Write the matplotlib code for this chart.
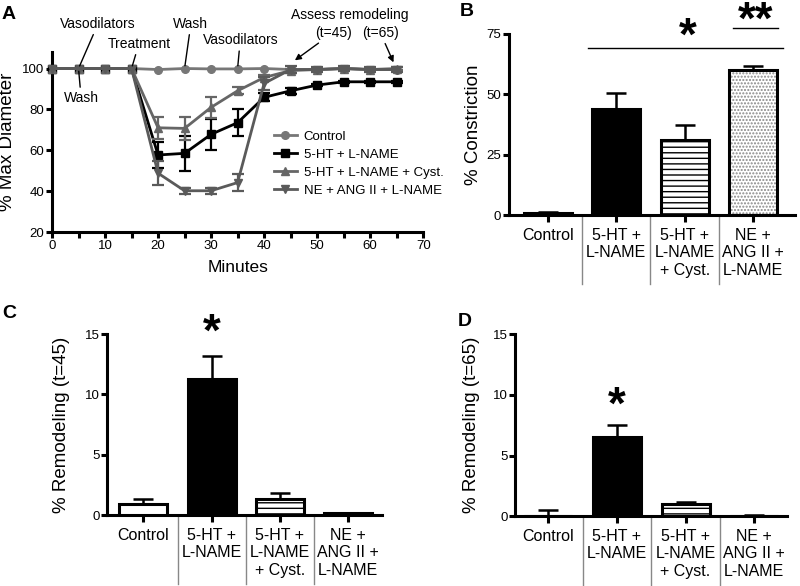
import numpy as np
import matplotlib.pyplot as plt
from matplotlib.transforms import blended_transform_factory

plt.rcParams['font.family'] = ['Liberation Sans', 'DejaVu Sans']
plt.rcParams['hatch.linewidth'] = 1.0

# panel A: time course
minutes = [0, 5, 10, 15, 20, 25, 30, 35, 40, 45, 50, 55, 60, 65]
ctrl_diam = [100, 100, 100, 100, 99.5, 100, 99.8, 99.8, 100, 99.5, 99.5, 100, 99.5, 99.5]
ctrl_err = [0, 0, 0, 0, 0, 0, 0, 0, 0, 0, 0, 0, 0, 0]
ht_diam = [100, 100, 100, 100, 57.7, 58.5, 67.8, 73.5, 85.9, 89.1, 91.9, 93.5, 93.5, 93.5]
ht_err = [0, 0, 0, 0, 6.2, 8.6, 7.7, 6.6, 2.0, 1.5, 0.7, 0.5, 0.5, 0.5]
cyst_diam = [100, 100, 100, 100, 71.0, 70.7, 81.0, 89.1, 95.6, 99.0, 99.5, 100, 99.5, 100]
cyst_err = [0, 0, 0, 0, 5.5, 5.7, 5.0, 1.8, 1.0, 1.0, 0.8, 0.8, 0.8, 0.8]
ne_diam = [100, 100, 100, 100, 48.8, 40.2, 40.2, 44.2, 92.7, 99.5, 99.5, 100, 99.5, 99.5]
ne_err = [0, 0, 0, 0, 6.0, 1.5, 1.5, 4.0, 3.0, 1.5, 1.0, 1.0, 1.0, 1.0]
series_labels = ['Control', '5-HT + L-NAME', '5-HT + L-NAME + Cyst.', 'NE + ANG II + L-NAME']

# panels B-D: bars
groups = ['Control', '5-HT +\nL-NAME', '5-HT +\nL-NAME\n+ Cyst.', 'NE +\nANG II +\nL-NAME']
constriction = [1.0, 44.0, 31.0, 60.0]
constriction_err = [0.3, 6.5, 6.5, 1.8]
remodel_45 = [0.9, 11.3, 1.3, 0.15]
remodel_45_err = [0.4, 1.9, 0.5, 0.05]
remodel_65 = [0.0, 6.5, 1.0, 0.05]
remodel_65_err = [0.5, 1.0, 0.2, 0.03]

fig = plt.figure(figsize=(8, 5.86), dpi=100)


def style_axes(ax, lw=2.2):
    for s in ['top', 'right']:
        ax.spines[s].set_visible(False)
    for s in ['left', 'bottom']:
        ax.spines[s].set_linewidth(lw)
    ax.tick_params(width=lw, length=4, labelsize=9.5, pad=1.5)


# ---- A ----
axA = fig.add_axes([0.065, 0.604, 0.464, 0.307])
style_axes(axA)
styles = [('#777777', 'o', ctrl_diam, ctrl_err),
          ('black', 's', ht_diam, ht_err),
          ('#666666', '^', cyst_diam, cyst_err),
          ('#5a5a5a', 'v', ne_diam, ne_err)]
t = np.array(minutes)
for (col, mk, vals, errs), lab in zip(styles, series_labels):
    vals = np.array(vals)
    errs = np.array(errs)
    axA.plot(t, vals, color=col, marker=mk, ms=5.5, lw=2, label=lab, clip_on=False, zorder=3)
    m = errs > 0
    if m.any():
        axA.errorbar(t[m], vals[m], yerr=errs[m], fmt='none', ecolor=col,
                     elinewidth=1.6, capsize=4.5, capthick=1.6, zorder=3)
axA.set_xlim(0, 70)
axA.set_ylim(20, 108)
axA.set_xticks(range(0, 71, 10))
axA.set_xticks(range(5, 70, 10), minor=True)
axA.tick_params(axis='x', which='minor', width=2.2, length=4)
axA.set_yticks(range(20, 101, 20))
axA.set_xlabel('Minutes', fontsize=12.5, labelpad=6)
axA.set_ylabel('% Max Diameter', fontsize=13.5)
axA.yaxis.set_label_coords(-0.097, 0.5)
axA.legend(loc='center left', bbox_to_anchor=(0.58, 0.38), frameon=False, fontsize=9.5,
           handlelength=1.75, handletextpad=0.5, labelspacing=0.45, borderpad=0)

line_kw = dict(arrowstyle='-', lw=1, color='black', shrinkA=1, shrinkB=2)
arrow_kw = dict(arrowstyle='-|>', lw=1, color='black', shrinkA=1, shrinkB=0, mutation_scale=9)
txt_kw = dict(fontsize=10, ha='center', va='center', annotation_clip=False)
axA.annotate('Vasodilators', xy=(5, 100), xytext=(8.7, 122), arrowprops=line_kw, **txt_kw)
axA.annotate('Wash', xy=(5, 100), xytext=(5.5, 85.4), arrowprops=line_kw, **txt_kw)
axA.annotate('Treatment', xy=(15, 100), xytext=(16.4, 112.2), arrowprops=line_kw, **txt_kw)
axA.annotate('Wash', xy=(25, 100), xytext=(26.2, 122), arrowprops=line_kw, **txt_kw)
axA.annotate('Vasodilators', xy=(35, 100), xytext=(35.5, 114), arrowprops=line_kw, **txt_kw)
axA.text(56.2, 126, 'Assess remodeling', fontsize=10, ha='center', va='center')
axA.annotate('(t=45)', xy=(45.8, 104), xytext=(53, 117.6), arrowprops=arrow_kw, **txt_kw)
axA.annotate('(t=65)', xy=(64.4, 103), xytext=(61.9, 117.6), arrowprops=arrow_kw, **txt_kw)


# ---- bar panels ----
def bar_panel(ax, means, errs, ylim, yticks, ylabel, xlim, label_x):
    style_axes(ax)
    x = np.arange(len(means))
    fills = ['white', 'black', 'white', 'white']
    hatches = [None, None, '---', '.....']
    hatch_cols = ['black', 'black', 'black', '#888888']
    for i in range(len(means)):
        if hatches[i]:
            ax.bar(x[i], means[i], width=0.7, color='white', edgecolor=hatch_cols[i],
                   hatch=hatches[i], linewidth=0, zorder=2)
            ax.bar(x[i], means[i], width=0.7, color='none', edgecolor='black',
                   linewidth=2.2, zorder=3)
        else:
            ax.bar(x[i], means[i], width=0.7, color=fills[i], edgecolor='black',
                   linewidth=2.2, zorder=3)
    ax.errorbar(x, means, yerr=[np.zeros(len(errs)), errs], fmt='none', ecolor='black',
                elinewidth=1.8, capsize=7.5, capthick=1.8, zorder=2)
    ax.set_xlim(*xlim)
    ax.set_ylim(*ylim)
    ax.set_yticks(yticks)
    ax.set_xticks(x)
    ax.set_xticklabels(groups, fontsize=11.5, linespacing=1.22)
    ax.tick_params(axis='x', length=5, pad=4)
    ax.set_ylabel(ylabel, fontsize=13.5)
    ax.yaxis.set_label_coords(label_x, 0.5)
    tr = blended_transform_factory(ax.transData, ax.transAxes)
    for xs in [0.5, 1.5, 2.5]:
        ax.plot([xs, xs], [-0.01, -0.38], color='#888888', lw=1, transform=tr, clip_on=False)


axB = fig.add_axes([0.636, 0.633, 0.3575, 0.309])
bar_panel(axB, constriction, constriction_err, (0, 75), [0, 25, 50, 75], '% Constriction',
          (-0.57, 3.61), -0.094)
axB.plot([0.59, 3.44], [69.2, 69.2], color='black', lw=1, clip_on=False)
axB.plot([2.71, 3.37], [77.5, 77.5], color='black', lw=1, clip_on=False)
axB.text(2.05, 73.5, '*', fontsize=33, fontweight='bold', ha='center', va='center')
axB.text(3.04, 80.0, '**', fontsize=33, fontweight='bold', ha='center', va='center')

axC = fig.add_axes([0.134, 0.121, 0.344, 0.309])
bar_panel(axC, remodel_45, remodel_45_err, (0, 15), [0, 5, 10, 15], '% Remodeling (t=45)',
          (-0.53, 3.5), -0.135)
axC.text(1.0, 15.0, '*', fontsize=33, fontweight='bold', ha='center', va='center')

axD = fig.add_axes([0.644, 0.119, 0.34, 0.3105])
bar_panel(axD, remodel_65, remodel_65_err, (0, 15), [0, 5, 10, 15], '% Remodeling (t=65)',
          (-0.48, 3.48), -0.129)
axD.text(1.0, 9.0, '*', fontsize=33, fontweight='bold', ha='center', va='center')

# panel letters
for lab, (px, py) in zip('ABCD', [(2, 6), (460, 3), (2, 305), (458, 313)]):
    fig.text(px / 800, 1 - py / 586, lab, fontsize=14, fontweight='bold', ha='left', va='top')

fig.savefig('out.png', dpi=100)
